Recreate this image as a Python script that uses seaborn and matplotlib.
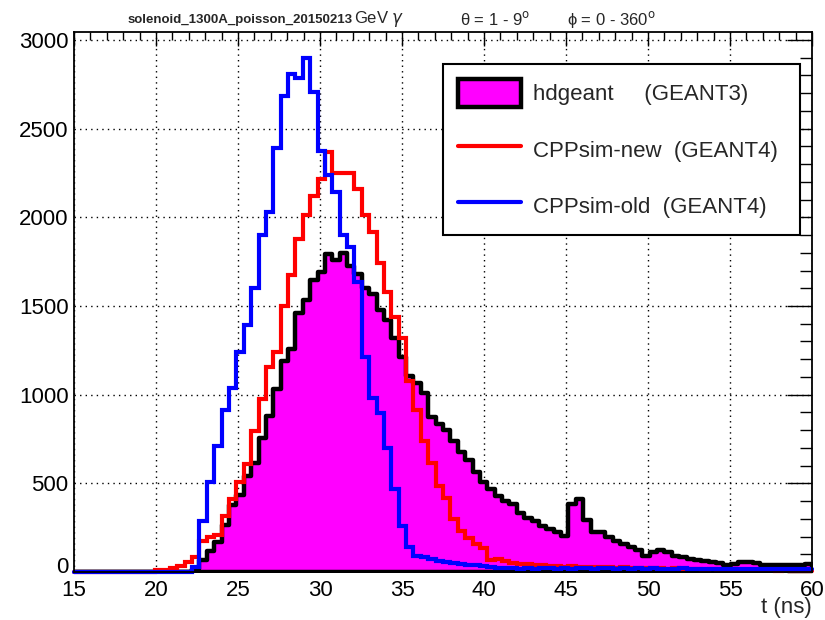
import numpy as np
import pandas as pd
import matplotlib
matplotlib.use("Agg")
import matplotlib.pyplot as plt
import matplotlib.transforms as mtransforms
from matplotlib.patches import Patch
from matplotlib.lines import Line2D
from matplotlib.ticker import MultipleLocator
import seaborn as sns

# ---------------- data (100 bins, 15-60 ns) ----------------
x_min, x_max, n_bins = 15, 60, 100

hdgeant = [0]*16 + [
    15, 65, 120, 170, 265, 375, 435, 540, 615, 758,
    880, 1030, 1190, 1255, 1460, 1532, 1646, 1694, 1792, 1758,
    1796, 1725, 1680, 1600, 1570, 1478, 1421, 1318, 1215, 1103,
    1066, 1010, 875, 836, 798, 740, 676, 630, 565, 510,
    470, 430, 400, 382, 330, 305, 288, 262, 245, 225,
    204, 382, 410, 295, 228, 226, 200, 172, 160, 140,
    125, 90, 112, 122, 112, 92, 85, 75, 70, 64,
    58, 48, 40, 45, 55, 55, 48, 42, 40, 42,
    40, 38, 42, 45]

cppsim_new = [0]*11 + [
    10, 12, 20, 35, 58, 86, 174, 200, 208, 318,
    410, 507, 610, 797, 975, 1154, 1241, 1502, 1676, 1878,
    2014, 2120, 2216, 2371, 2249, 2249, 2249, 2161, 2011, 1917,
    1740, 1580, 1440, 1318, 1075, 916, 738, 616, 485, 420,
    298, 232, 190, 158, 134, 70, 72, 62, 52, 45,
    45, 42, 38, 35, 32, 30, 32, 30, 28, 30,
    26, 28, 25, 28, 24, 22, 25, 20, 22, 18,
    20, 16, 18, 15, 14, 15, 12, 14, 12, 10,
    12, 10, 9, 10, 8, 9, 8, 7, 8]

cppsim_old = [0]*16 + [
    30, 288, 505, 710, 916, 1040, 1243, 1393, 1601, 1899,
    2030, 2392, 2685, 2807, 2785, 2900, 2704, 2376, 2236, 2142,
    1899, 1833, 1637, 1215, 981, 897, 700, 466, 260, 139,
    92, 82, 73, 64, 56, 50, 45, 40, 38, 35,
    30, 25, 20, 22, 17, 22, 17, 20, 22, 18,
    20, 18, 22, 20, 18, 20, 22, 19, 20, 18,
    21, 19, 20, 18, 17, 19, 21, 18, 17, 19,
    18, 17, 18, 16, 17, 18, 16, 17, 16, 18,
    16, 17, 16, 17]

legend_labels = ["hdgeant     (GEANT3)", "CPPsim-new  (GEANT4)", "CPPsim-old  (GEANT4)"]
x_ticks = [15, 20, 25, 30, 35, 40, 45, 50, 55, 60]
y_ticks = [0, 500, 1000, 1500, 2000, 2500, 3000]

# ---------------- figure ----------------
sns.set_style("white")
plt.rcParams['font.family'] = ['Liberation Sans', 'DejaVu Sans']

W, H = 825, 620
fig = plt.figure(figsize=(W/100, H/100), dpi=100)
L, R, T, B = 74, 812, 32, 572
ax = fig.add_axes([L/W, 1-B/H, (R-L)/W, (B-T)/H])

edges = np.linspace(x_min, x_max, n_bins + 1)
centers = (edges[:-1] + edges[1:]) / 2
df = pd.DataFrame({"t": centers, "hdgeant": hdgeant,
                   "new": cppsim_new, "old": cppsim_old})

common = dict(data=df, x="t", bins=n_bins, binrange=(x_min, x_max), element="step", ax=ax)
sns.histplot(weights="hdgeant", fill=True, facecolor="#ff00ff", edgecolor="black",
             linewidth=3.2, alpha=1, zorder=3, **common)
sns.histplot(weights="new", fill=False, color="#ff0000", linewidth=3.0, zorder=4, **common)
sns.histplot(weights="old", fill=False, color="#0000ff", linewidth=3.0, zorder=5, **common)
for ln in ax.lines:
    ln.set_clip_on(False)
    ln.set_solid_joinstyle("miter")

ax.set_xlim(x_min, x_max)
ax.set_ylim(0, 3045)
ax.set_xticks(x_ticks)
ax.set_yticks(y_ticks)
ax.xaxis.set_minor_locator(MultipleLocator(1))
ax.yaxis.set_minor_locator(MultipleLocator(100))
ax.tick_params(which="both", direction="in", top=True, right=True, colors="black",
               labelsize=16)
ax.tick_params(axis="x", which="major", length=10, width=1.0, pad=6)
ax.tick_params(axis="x", which="minor", length=5.5, width=1.0)
ax.tick_params(axis="y", which="major", length=18, width=1.0, pad=4)
ax.tick_params(axis="y", which="minor", length=9, width=1.0)

# lift the "0" label a little so it only touches the "15" below it
fig.canvas.draw()
zero_lbl = ax.get_yticklabels()[0]
zero_lbl.set_transform(zero_lbl.get_transform() +
                       mtransforms.ScaledTranslation(0, 5/72, fig.dpi_scale_trans))

ax.set_axisbelow(True)
ax.grid(True, which="major", color="black", linestyle=(0, (1, 3)), linewidth=1.0)
for sp in ax.spines.values():
    sp.set_color("black")
    sp.set_linewidth(1.3)
    sp.set_zorder(6)

ax.set_ylabel("")
ax.set_xlabel("t (ns)", fontsize=16, loc="right", labelpad=-3)

handles = [Patch(facecolor="#ff00ff", edgecolor="black", linewidth=3.2),
           Line2D([], [], color="#ff0000", lw=3.0),
           Line2D([], [], color="#0000ff", lw=3.0)]
leg = ax.legend(handles, legend_labels, loc="lower left",
                bbox_to_anchor=((443-L)/(R-L), (B-235)/(B-T), (800-443)/(R-L), (235-64)/(B-T)),
                mode="expand", frameon=True, fancybox=False, edgecolor="black",
                framealpha=1, fontsize=16, handlelength=2.8, handleheight=1.57,
                labelspacing=1.27, borderpad=0.69, handletextpad=0.55, borderaxespad=0)
leg.get_frame().set_linewidth(1.5)
leg.set_zorder(10)

# header texts
fig.text(128/W, 1-20/H, "solenoid_1300A_poisson_20150213", fontsize=9.5,
         fontweight="bold", ha="left", va="center")
fig.text(354/W, 1-19/H, "GeV $\\gamma$", fontsize=12, ha="left", va="center")
fig.text(460/W, 1-19/H, "θ = 1 - 9$^{\\mathrm{o}}$", fontsize=12, ha="left", va="center")
fig.text(567/W, 1-19/H, "ϕ = 0 - 360$^{\\mathrm{o}}$", fontsize=12, ha="left", va="center")

fig.savefig("out.png", dpi=100, facecolor="white")
